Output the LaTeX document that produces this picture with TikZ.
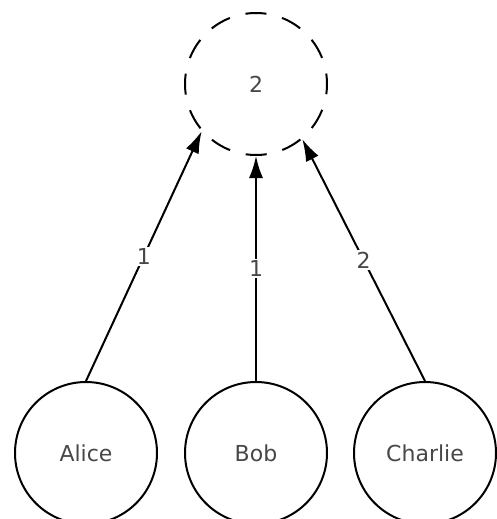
\documentclass[tikz,border=0pt]{standalone}
\usepackage{fontspec}
\setmainfont{DejaVu Sans}
\usetikzlibrary{arrows.meta}
\begin{document}
\begin{tikzpicture}[x=1pt,y=1pt,
  txt/.style={text=black!72, font=\fontsize{22}{26}\selectfont},
  person/.style={circle, draw, line width=2pt, minimum size=142pt, inner sep=0pt, txt},
  group/.style={person, dash pattern=on 21pt off 16.2pt, dash phase=10.5pt},
  link/.style={line width=2pt, -{Latex[length=22pt,width=14pt]}},
  weight/.style={fill=white, inner sep=1.5pt, txt}]
  \useasboundingbox (0,0) rectangle (496,-519);
  \node[group]  (top)     at (256,-84)  {2};
  \node[person] (alice)   at (86,-453)  {Alice};
  \node[person] (bob)     at (256,-453) {Bob};
  \node[person] (charlie) at (425,-453) {Charlie};
  \draw[link] (alice.north)   -- node[weight]{1} (top.221.6);
  \draw[link] (bob.north)     -- node[weight]{1} (top.south);
  \draw[link] (charlie.north) -- node[weight]{2} (top.310.4);
\end{tikzpicture}
\end{document}
